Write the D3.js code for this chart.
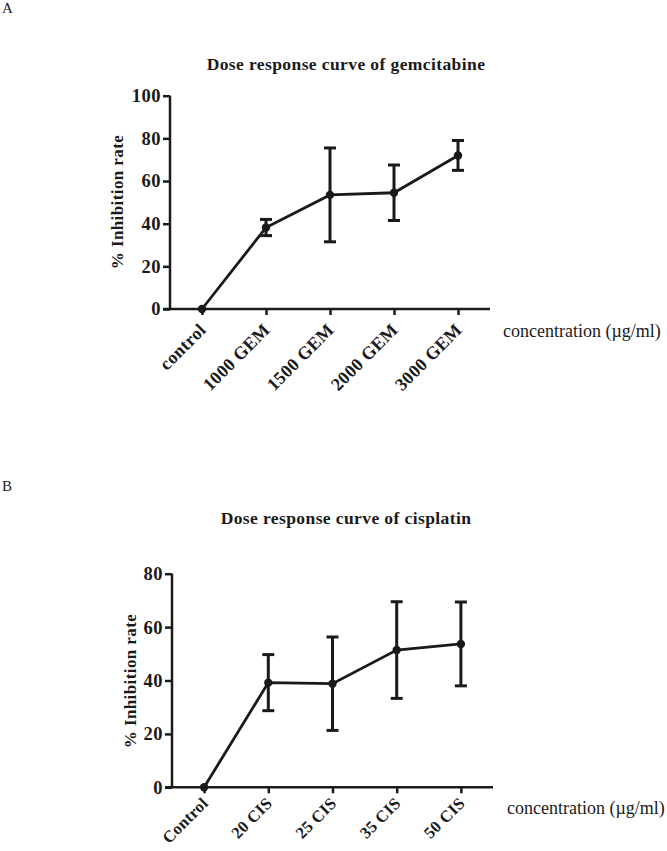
<!DOCTYPE html>
<html><head><meta charset="utf-8">
<script src="https://cdn.jsdelivr.net/npm/d3@7"></script>
<style>
body{margin:0;background:#fff;}
svg{display:block;}
text{font-family:"Liberation Serif","Times New Roman",serif;fill:#1a1a1a;}
</style></head>
<body>
<svg id="c" width="667" height="851"></svg>
<script>
// Panel A data
const catsA = ["control","1000 GEM","1500 GEM","2000 GEM","3000 GEM"];
const meanA = [0, 38.2, 53.5, 54.5, 72.0];
const errA  = [0, 3.8, 22.0, 13.0, 7.0];
const ticksA = [0,20,40,60,80,100];
// Panel B data
const catsB = ["Control","20 CIS","25 CIS","35 CIS","50 CIS"];
const meanB = [0, 39.2, 38.8, 51.4, 53.7];
const errB  = [0, 10.5, 17.5, 18.1, 15.7];
const ticksB = [0,20,40,60,80];

const svg = d3.select("#c");
const ink = "#1a1a1a";

svg.append("text").attr("x",2).attr("y",13).attr("font-size",15).text("A");
svg.append("text").attr("x",2).attr("y",491).attr("font-size",15).text("B");

function panel(o){
  const g = svg.append("g");
  const x = d3.scalePoint().domain(o.cats).range([o.x0,o.x1]).padding(0.5);
  const y = d3.scaleLinear().domain([0,o.ymax]).range([o.yb,o.yt]);
  // title
  g.append("text").attr("x",o.tx).attr("y",o.ty).attr("text-anchor","middle")
    .attr("font-size",17.5).attr("font-weight","bold").attr("letter-spacing",0.4).text(o.title);
  // y axis
  const ya = g.append("g").attr("transform",`translate(${o.x0},0)`)
    .call(d3.axisLeft(y).tickValues(o.ticks).tickSize(7).tickPadding(2).tickFormat(d3.format("d")));
  ya.select(".domain").attr("stroke",ink).attr("stroke-width",2.5).attr("d",`M0,${o.yb}V${o.yt}`);
  ya.selectAll(".tick line").attr("stroke",ink).attr("stroke-width",2.5);
  ya.selectAll(".tick text").attr("font-size",18.5).attr("font-weight","bold")
    .attr("font-family","Liberation Serif").attr("fill",ink).attr("letter-spacing",0.5);
  // x axis
  const xa = g.append("g").attr("transform",`translate(0,${o.yb})`)
    .call(d3.axisBottom(x).tickSize(6).tickFormat(""));
  xa.select(".domain").attr("stroke",ink).attr("stroke-width",2.5).attr("d",`M${o.x0-7},0H${o.x1}`);
  xa.selectAll(".tick line").attr("stroke",ink).attr("stroke-width",2.5);
  g.selectAll("text.xl").data(o.cats).join("text").attr("class","xl")
    .attr("transform",d=>`translate(${x(d)+5},${o.yb+o.lo}) rotate(-45)`)
    .attr("text-anchor","end").attr("font-size",o.lf).attr("font-weight","bold")
    .attr("letter-spacing",0.3).text(d=>d);
  // axis titles
  g.append("text").attr("transform",`translate(${o.ylx},${o.yly}) rotate(-90)`)
    .attr("text-anchor","middle").attr("font-size",17).attr("font-weight","bold")
    .attr("letter-spacing",0.4).text("% Inhibition rate");
  g.append("text").attr("x",o.cx).attr("y",o.cy).attr("font-size",18).text("concentration (µg/ml)");
  // data
  const pts = o.cats.map((c,i)=>({c,m:o.mean[i],e:o.err[i]}));
  g.append("path").datum(pts).attr("fill","none").attr("stroke",ink).attr("stroke-width",2.8)
    .attr("d",d3.line().x(d=>x(d.c)).y(d=>y(d.m)));
  const eb = g.selectAll("g.eb").data(pts.filter(d=>d.e>0)).join("g").attr("class","eb")
    .attr("stroke",ink).attr("stroke-width",3);
  eb.append("line").attr("x1",d=>x(d.c)).attr("x2",d=>x(d.c)).attr("y1",d=>y(d.m+d.e)).attr("y2",d=>y(d.m-d.e));
  eb.append("line").attr("x1",d=>x(d.c)-6).attr("x2",d=>x(d.c)+6).attr("y1",d=>y(d.m+d.e)).attr("y2",d=>y(d.m+d.e));
  eb.append("line").attr("x1",d=>x(d.c)-6).attr("x2",d=>x(d.c)+6).attr("y1",d=>y(d.m-d.e)).attr("y2",d=>y(d.m-d.e));
  g.selectAll("circle").data(pts).join("circle").attr("cx",d=>x(d.c)).attr("cy",d=>y(d.m))
    .attr("r",4.2).attr("fill",ink);
}

panel({cats:catsA,mean:meanA,err:errA,ticks:ticksA,ymax:100,x0:170,x1:490,yb:309,yt:95.7,lo:22,lf:18,
  title:"Dose response curve of gemcitabine",tx:346,ty:70,ylx:123,yly:202,cx:503,cy:337});
panel({cats:catsB,mean:meanB,err:errB,ticks:ticksB,ymax:80,x0:172,x1:493,yb:787.3,yt:573.7,lo:17,lf:16.5,
  title:"Dose response curve of cisplatin",tx:346,ty:524,ylx:136,yly:681,cx:507,cy:814});
</script>
</body></html>
